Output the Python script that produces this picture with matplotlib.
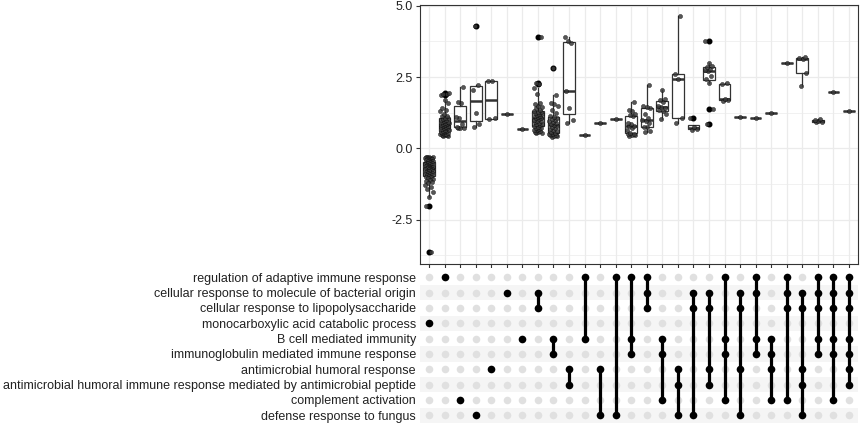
import numpy as np
import matplotlib
matplotlib.use("Agg")
import matplotlib.pyplot as plt

plt.rcParams['font.family'] = ['Liberation Sans', 'DejaVu Sans']

terms = [
    "regulation of adaptive immune response",
    "cellular response to molecule of bacterial origin",
    "cellular response to lipopolysaccharide",
    "monocarboxylic acid catabolic process",
    "B cell mediated immunity",
    "immunoglobulin mediated immune response",
    "antimicrobial humoral response",
    "antimicrobial humoral immune response mediated by antimicrobial peptide",
    "complement activation",
    "defense response to fungus",
]

# rows (index into terms) that make up each intersection column
sets = [
    [3], [0], [8], [9], [6], [1], [4], [1, 2], [4, 5], [6, 7],
    [0, 4], [6, 9], [0, 9], [0, 4, 5], [0, 1, 2], [4, 5, 8], [6, 7, 9],
    [1, 2, 9], [1, 2, 6, 7], [0, 4, 5, 8], [1, 2, 6, 9], [0, 1, 4, 5],
    [4, 5, 6, 8], [0, 1, 2, 8], [1, 2, 6, 7, 9], [0, 1, 2, 4, 5],
    [0, 1, 2, 4, 5, 8], [0, 1, 2, 4, 5, 6, 7],
]

# values per column
v_mono = [-0.29, -0.30, -0.31, -0.32, -0.33, -0.34, -0.35, -0.36, -0.38, -0.39,
          -0.40, -0.42, -0.43, -0.45, -0.46, -0.48, -0.50, -0.51, -0.53, -0.55,
          -0.56, -0.58, -0.59, -0.61, -0.62, -0.64, -0.65, -0.67, -0.68, -0.70,
          -0.71, -0.72, -0.74, -0.76, -0.78, -0.80, -0.81, -0.83, -0.85, -0.87,
          -0.89, -0.91, -0.93, -0.95, -0.97, -0.99, -1.02, -1.05, -1.08, -1.10,
          -1.13, -1.17, -1.22, -1.28, -1.35, -1.42, -1.55, -1.70, -2.01, -3.63]
v_adapt = [0.42, 0.43, 0.45, 0.46, 0.48, 0.49, 0.50, 0.52, 0.53, 0.55, 0.56, 0.58,
           0.60, 0.62, 0.64, 0.66, 0.68, 0.70, 0.72, 0.74, 0.76, 0.78, 0.80, 0.82,
           0.83, 0.85, 0.87, 0.88, 0.90, 0.92, 0.94, 0.96, 0.98, 1.00, 1.02, 1.05,
           1.08, 1.12, 1.15, 1.20, 1.30, 1.35, 1.40, 1.60, 1.70, 1.86, 1.89, 1.92, 1.95]
v_compl = [0.72, 0.72, 0.73, 0.75, 0.85, 1.07, 1.10, 1.60, 1.62, 2.16]
v_fungus = [0.75, 0.85, 1.25, 2.05, 2.22, 4.28]
v_amh = [1.02, 1.05, 2.35, 2.38]
v_bact = [1.19]
v_bcell = [0.69]
v_bact_lps = [0.53, 0.55, 0.57, 0.59, 0.61, 0.63, 0.65, 0.68, 0.70, 0.73, 0.76,
              0.78, 0.81, 0.84, 0.86, 0.89, 0.92, 0.95, 0.97, 1.00, 1.02, 1.05,
              1.07, 1.09, 1.12, 1.14, 1.17, 1.19, 1.22, 1.24, 1.27, 1.29, 1.31,
              1.35, 1.40, 1.45, 1.50, 1.55, 1.60, 1.90, 2.10, 2.26, 2.28, 3.92]
v_bcell_ig = [0.40, 0.42, 0.44, 0.45, 0.47, 0.49, 0.51, 0.53,
              0.56, 0.60, 0.63, 0.67, 0.70, 0.74, 0.78, 0.82,
              0.85, 0.88, 0.92, 0.95, 0.98, 1.02, 1.05, 1.09,
              1.15, 1.25, 1.35, 1.50, 1.55, 1.60, 1.87, 2.83]
v_amh_pep = [0.88, 1.00, 1.40, 2.00, 3.70, 3.75, 3.92]
v_c11 = [0.47]
v_c12 = [0.90]
v_c13 = [1.02]
v_c14 = [0.43, 0.45, 0.48, 0.50, 0.52, 0.55, 0.65, 0.70, 0.78, 0.80, 0.85, 0.90,
         1.12, 1.16, 1.20, 1.30, 1.35, 1.61]
v_c15 = [0.59, 0.62, 0.75, 0.76, 0.90, 0.95, 1.00, 1.05, 1.20, 1.40, 1.45, 1.50, 2.23]
v_c16 = [1.02, 1.20, 1.30, 1.34, 1.40, 1.44, 1.50, 1.64, 1.68, 1.73, 2.03]
v_c17 = [0.88, 1.05, 2.45, 2.60, 4.63]
v_c18 = [0.66, 0.69, 0.74, 1.08]
v_c19 = [0.87, 1.37, 2.30, 2.45, 2.55, 2.70, 2.75, 2.80, 2.85, 2.90, 2.98, 3.78]
v_c20 = [1.67, 1.70, 1.72, 2.25, 2.28]
v_c21 = [1.11]
v_c22 = [1.08]
v_c23 = [1.25]
v_c24 = [2.99]
v_c25 = [2.20, 2.64, 3.12, 3.16, 3.21]
v_c26 = [0.92, 0.94, 0.95, 0.98, 1.02]
v_c27 = [1.96]
v_c28 = [1.32]

values = [v_mono, v_adapt, v_compl, v_fungus, v_amh, v_bact, v_bcell,
          v_bact_lps, v_bcell_ig, v_amh_pep, v_c11, v_c12, v_c13, v_c14,
          v_c15, v_c16, v_c17, v_c18, v_c19, v_c20, v_c21, v_c22, v_c23,
          v_c24, v_c25, v_c26, v_c27, v_c28]

W, H = 864, 432
pos = np.arange(1, len(sets) + 1)
dark = '#333333'

fig = plt.figure(figsize=(W / 100, H / 100), dpi=100)
ax = fig.add_axes([420 / W, 1 - 264 / H, 438 / W, 259 / H])
mx = fig.add_axes([420 / W, 1 - 424.5 / H, 438 / W, 156.5 / H])

# --- top panel: boxplots + jittered points
ax.boxplot(values, positions=pos, widths=0.75, patch_artist=True, showcaps=False,
           boxprops=dict(facecolor='white', edgecolor=dark, linewidth=0.9),
           medianprops=dict(color=dark, linewidth=1.8),
           whiskerprops=dict(color=dark, linewidth=0.9),
           flierprops=dict(marker='o', markerfacecolor='black',
                           markeredgecolor='black', markersize=3.3),
           zorder=2)

for p, vals in zip(pos, values):
    k = np.arange(len(vals))
    off = 0.28 * (((k * 0.618034 + 0.3) % 1) * 2 - 1) if len(vals) > 1 else np.zeros(1)
    ax.scatter(p + off, vals, s=9, color='#3a3a3a', alpha=0.85,
               edgecolors='black', linewidths=0.3, zorder=3)

ax.set_xlim(0.42, 28.58)
ax.set_ylim(-4.06, 5.03)
ax.set_yticks([-2.5, 0.0, 2.5, 5.0])
ax.set_yticklabels(['-2.5', '0.0', '2.5', '5.0'])
ax.set_yticks([-3.75, -1.25, 1.25, 3.75], minor=True)
ax.set_xticks(pos)
ax.set_xticklabels([])
ax.grid(which='major', color='#EBEBEB', linewidth=0.9, zorder=0)
ax.grid(which='minor', axis='y', color='#EBEBEB', linewidth=0.5, zorder=0)
ax.set_axisbelow(True)
ax.tick_params(which='major', length=3, color=dark, labelsize=9, labelcolor='#222222', pad=2)
ax.tick_params(which='minor', length=0)
for s in ax.spines.values():
    s.set_color(dark)
    s.set_linewidth(0.8)

# --- bottom panel: membership matrix
nrow = len(terms)
for r in range(1, nrow, 2):
    mx.axhspan(r - 0.5, r + 0.5, color='#F5F5F5', lw=0, zorder=0)

gx, gy = np.meshgrid(pos, np.arange(nrow))
mx.scatter(gx.ravel(), gy.ravel(), s=30, color='#E0E0E0', lw=0, zorder=1)
for p, rows in zip(pos, sets):
    if len(rows) > 1:
        mx.plot([p, p], [min(rows), max(rows)], color='black', lw=2.3,
                solid_capstyle='butt', zorder=2)
    mx.scatter([p] * len(rows), rows, s=30, color='black', lw=0, zorder=3)

mx.set_xlim(0.42, 28.58)
mx.set_ylim(nrow - 0.4, -0.6)
mx.set_yticks(np.arange(nrow))
mx.set_yticklabels(terms)
mx.set_xticks([])
mx.tick_params(axis='y', length=0, labelsize=9, labelcolor='#222222', pad=3)
for s in mx.spines.values():
    s.set_visible(False)

fig.savefig('out.png', dpi=100)
